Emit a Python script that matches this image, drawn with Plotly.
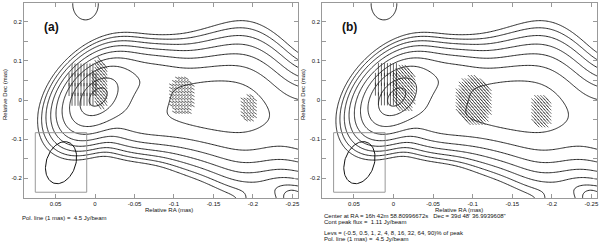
import numpy as np
import plotly.graph_objects as go

# ---------------- data: Gaussian model components (fraction of peak) ----------------
comp_ra  = [-0.002, -0.030, -0.040, -0.040, -0.065, -0.065, -0.090, -0.090, -0.115, -0.140,
            -0.165, -0.190, -0.215, -0.240, -0.265, -0.290, -0.315, 0.012, -0.212, -0.249]
comp_dec = [0.006, 0.004, 0.055, -0.045, 0.052, -0.047, 0.048, -0.050, -0.012, -0.012,
            -0.016, -0.022, -0.030, -0.050, -0.066, -0.078, -0.085, 0.245, -0.275, -0.243]
comp_amp = [0.93, 0.03, 0.11, 0.11, 0.12, 0.12, 0.12, 0.12, 0.19, 0.24,
            0.23, 0.22, 0.14, 0.10, 0.12, 0.12, 0.10, -0.012, 0.02, -0.008]
comp_sx  = [0.021, 0.018, 0.022, 0.022, 0.022, 0.022, 0.022, 0.022, 0.021, 0.021,
            0.021, 0.021, 0.021, 0.024, 0.025, 0.025, 0.025, 0.012, 0.015, 0.004]
comp_sy  = [0.050, 0.040, 0.040, 0.040, 0.040, 0.040, 0.042, 0.042, 0.060, 0.063,
            0.070, 0.078, 0.072, 0.062, 0.058, 0.060, 0.060, 0.030, 0.030, 0.006]
comp_pa  = [-12, 0, 0, 0, 0, 0, 0, 0, 0, 0, 0, 0, 0, 0, 0, 0, 0, 0, 0, 0]

levels_pct = [-0.5, 0.5, 1, 2, 4, 8, 16, 32, 64, 90]

# beam (mas, deg) and beam box corners
beam_ra, beam_dec = 0.043, -0.160
beam_maj, beam_min, beam_pa = 0.108, 0.038, -6
box_ra = [0.0756, 0.0105]
box_dec = [-0.0834, -0.2355]

# polarization patches: centre, half sizes (mas), EVPA (deg), stick length (px)
pol_a_ra   = [0.0160, -0.0070, -0.1100, -0.1950]
pol_a_dec  = [0.039, 0.040, 0.010, -0.023]
pol_a_hw   = [0.021, 0.010, 0.017, 0.011]
pol_a_hh   = [0.062, 0.066, 0.050, 0.036]
pol_a_evpa = [0, 35, 60, 55]
pol_a_len  = [13, 6, 5, 5]

pol_b_ra   = [0.0085, -0.0135, -0.1020, -0.1870]
pol_b_dec  = [0.040, 0.030, -0.003, -0.030]
pol_b_hw   = [0.016, 0.015, 0.022, 0.013]
pol_b_hh   = [0.062, 0.060, 0.062, 0.042]
pol_b_evpa = [0, 40, 45, 45]
pol_b_len  = [13, 7, 8, 7]

xticks = [0.05, 0, -0.05, -0.1, -0.15, -0.2, -0.25]
xtick_text = ["0.05", "0", "-0.05", "-0.1", "-0.15", "-0.2", "-0.25"]
yticks = [0.2, 0.1, 0, -0.1, -0.2]
ytick_text = ["0.2", "0.1", "0", "-0.1", "-0.2"]
yminor = [0.25, 0.15, 0.05, -0.05, -0.15, -0.25]

# ---------------- layout geometry ----------------
W, H = 600, 244
XR = [0.09, -0.257]
YR = [-0.251, 0.247]
XDOM = [[0.04, 0.4983], [0.5388, 0.9983]]
YDOM = [0.1873, 0.9865]
px_x = W * (XDOM[0][1] - XDOM[0][0]) / abs(XR[1] - XR[0])
px_y = H * (YDOM[1] - YDOM[0]) / abs(YR[1] - YR[0])

# ---------------- model image ----------------
gx = np.linspace(-0.32, 0.14, 260)
gy = np.linspace(-0.32, 0.32, 300)
X, Y = np.meshgrid(gx, gy)
img = np.zeros_like(X)
for ra, de, a, sx, sy, pa in zip(comp_ra, comp_dec, comp_amp, comp_sx, comp_sy, comp_pa):
    t = np.deg2rad(pa)
    dx, dy = X - ra, Y - de
    u = dx * np.sin(t) + dy * np.cos(t)   # along PA (major, sy)
    v = dx * np.cos(t) - dy * np.sin(t)
    img += a * np.exp(-(u ** 2 / (2 * sy ** 2) + v ** 2 / (2 * sx ** 2)))
pct = 100 * img / img.max()

fig = go.Figure()
font = dict(family="Liberation Sans, Arial, sans-serif", size=6, color="#111")

for k in range(2):
    xa = "x" if k == 0 else "x2"
    ya = "y" if k == 0 else "y2"
    for lev in levels_pct:
        fig.add_trace(go.Contour(
            x=gx, y=gy, z=pct, xaxis=xa, yaxis=ya,
            autocontour=False,
            contours=dict(start=lev, end=lev + 1e-6, size=1, coloring="lines"),
            colorscale=[[0, "#111"], [1, "#111"]], showscale=False,
            line=dict(width=0.9, smoothing=1), hoverinfo="skip"))
    # beam box
    fig.add_trace(go.Scatter(
        x=[box_ra[0], box_ra[1], box_ra[1], box_ra[0], box_ra[0]],
        y=[box_dec[0], box_dec[0], box_dec[1], box_dec[1], box_dec[0]],
        mode="lines", line=dict(color="#999", width=1), xaxis=xa, yaxis=ya,
        hoverinfo="skip", showlegend=False))
    # beam ellipse
    t = np.linspace(0, 2 * np.pi, 90)
    p = np.deg2rad(beam_pa)
    a_, b_ = beam_maj / 2, beam_min / 2
    ex = beam_ra + a_ * np.cos(t) * np.sin(p) + b_ * np.sin(t) * np.cos(p)
    ey = beam_dec + a_ * np.cos(t) * np.cos(p) - b_ * np.sin(t) * np.sin(p)
    fig.add_trace(go.Scatter(x=ex, y=ey, mode="lines", line=dict(color="#111", width=1),
                             xaxis=xa, yaxis=ya, hoverinfo="skip", showlegend=False))
    # polarization sticks
    if k == 0:
        P = zip(pol_a_ra, pol_a_dec, pol_a_hw, pol_a_hh, pol_a_evpa, pol_a_len)
    else:
        P = zip(pol_b_ra, pol_b_dec, pol_b_hw, pol_b_hh, pol_b_evpa, pol_b_len)
    sx_, sy_ = [], []
    for ra0, de0, hw, hh, ev, ln in P:
        stepx = 3.0 / px_x
        stepy = (0.75 * ln if ev == 0 else 3.4) / px_y
        c = np.deg2rad(ev)
        hx = 0.5 * ln * np.sin(c) / px_x
        hy = 0.5 * ln * np.cos(c) / px_y
        for ra in np.arange(ra0 - hw, ra0 + hw + 1e-9, stepx):
            for de in np.arange(de0 - hh, de0 + hh + 1e-9, stepy):
                if ((ra - ra0) / hw) ** 2 + ((de - de0) / hh) ** 2 <= 1:
                    sx_ += [ra + hx, ra - hx, None]
                    sy_ += [de + hy, de - hy, None]
    fig.add_trace(go.Scatter(x=sx_, y=sy_, mode="lines", line=dict(color="#222", width=0.7),
                             xaxis=xa, yaxis=ya, hoverinfo="skip", showlegend=False))

axis_common = dict(showline=True, linecolor="#999", linewidth=1, mirror="allticks",
                   ticks="inside", ticklen=4, tickcolor="#999", showgrid=False,
                   zeroline=False, tickfont=font)
fig.update_layout(
    width=W, height=H, margin=dict(l=0, r=0, t=0, b=0),
    paper_bgcolor="white", plot_bgcolor="white", showlegend=False,
    xaxis=dict(domain=XDOM[0], range=XR, tickvals=xticks, ticktext=xtick_text, anchor="y", **axis_common),
    xaxis2=dict(domain=XDOM[1], range=XR, tickvals=xticks, ticktext=xtick_text, anchor="y2", **axis_common),
    yaxis=dict(domain=YDOM, range=YR, tickvals=yticks, ticktext=ytick_text, anchor="x",
               minor=dict(tickvals=yminor, ticks="inside", ticklen=4, tickcolor="#999"), **axis_common),
    yaxis2=dict(domain=YDOM, range=YR, tickvals=yticks, ticktext=ytick_text, anchor="x2",
                minor=dict(tickvals=yminor, ticks="inside", ticklen=4, tickcolor="#999"), **axis_common),
)

def ann(x, y, text, size=6, bold=False, angle=0, xanchor="left"):
    fig.add_annotation(x=x / W, y=1 - y / H, xref="paper", yref="paper", text=f"<b>{text}</b>" if bold else text,
                       showarrow=False, xanchor=xanchor, yanchor="middle", textangle=angle,
                       font=dict(family=font["family"], size=size, color="#111"))

ann(52, 27, "(a)", size=12, bold=True, xanchor="center")
ann(350.5, 27, "(b)", size=12, bold=True, xanchor="center")
ann(169.5, 210, "Relative RA (mas)", xanchor="center")
ann(461, 209.6, "Relative RA (mas)", xanchor="center")
ann(5, 94, "Relative Dec (mas)", angle=-90, xanchor="center")
ann(304, 94, "Relative Dec (mas)", angle=-90, xanchor="center")
ann(20, 218.3, "Pol. line (1 mas) =  4.5 Jy/beam")
ann(322.7, 216.2, "Center at RA = 16h 42m 58.80996672s   Dec = 39d 48' 36.9939608\"")
ann(322.7, 222.4, "Cont peak flux =  1.11 Jy/beam")
ann(322.7, 233, "Levs = (-0.5, 0.5, 1, 2, 4, 8, 16, 32, 64, 90)% of peak")
ann(322.7, 239, "Pol. line (1 mas) =  4.5 Jy/beam")

fig.write_html("out.html", config={"displayModeBar": False, "staticPlot": True},
               post_script="document.body.style.margin='0px';document.body.style.overflow='hidden';")
